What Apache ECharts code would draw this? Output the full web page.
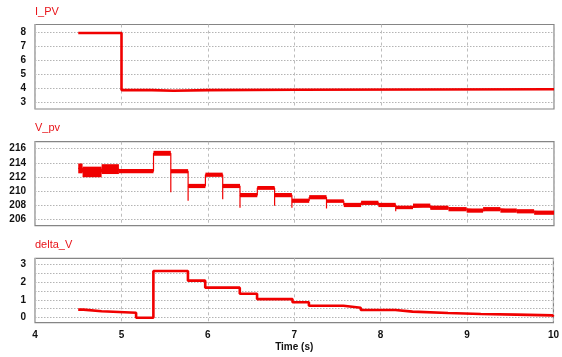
<!DOCTYPE html>
<html><head><meta charset="utf-8">
<script src="https://cdn.jsdelivr.net/npm/echarts@6/dist/echarts.min.js"></script>
<style>html,body{margin:0;padding:0;background:#fff}#c{width:562px;height:357px}</style>
</head><body><div id="c"></div>
<script>
// ---- axis ticks / labels ----
const xTicks = [4, 5, 6, 7, 8, 9, 10];
const ipvTicks = [3, 4, 5, 6, 7, 8];
const vpvTicks = [206, 208, 210, 212, 214, 216];
const dvGridTicks = [0, 0.5, 1, 1.5, 2, 2.5, 3];
const dvLabelTicks = [0, 1, 2, 3];
const panelTitles = ['I_PV', 'V_pv', 'delta_V'];
const xName = 'Time (s)';

// ---- I_PV (step: value holds from time[i] to time[i+1]) ----
const ipvTime  = [4.50, 5.00, 5.35, 5.60, 6.00, 7.00, 10.00];
const ipvValue = [7.95, 3.87, 3.82, 3.87, 3.90, 3.93, 3.95];

// ---- V_pv ripple bands (segment start, end, low, high) ----
const vpvStart = [4.50, 4.55, 4.77, 4.97, 5.37, 5.57, 5.77, 5.97, 6.17, 6.37, 6.57, 6.77, 6.97, 7.17, 7.37, 7.57, 7.77, 7.97, 8.17, 8.37, 8.57, 8.78, 8.99, 9.18, 9.38, 9.57, 9.77];
const vpvEnd   = [4.55, 4.77, 4.97, 5.37, 5.57, 5.77, 5.97, 6.17, 6.37, 6.57, 6.77, 6.97, 7.17, 7.37, 7.57, 7.77, 7.97, 8.17, 8.37, 8.57, 8.78, 8.99, 9.18, 9.38, 9.57, 9.77, 10.00];
const vpvLow   = [212.5, 211.95, 212.4, 212.5, 215.0, 212.5, 210.4, 212.0, 210.4, 209.1, 210.15, 209.1, 208.3, 208.8, 208.3, 207.7, 208.0, 207.7, 207.4, 207.6, 207.3, 207.1, 206.9, 207.1, 206.9, 206.8, 206.6];
const vpvHigh  = [213.9, 213.45, 213.8, 213.1, 215.7, 213.1, 211.0, 212.6, 211.0, 209.7, 210.7, 209.7, 208.9, 209.4, 208.8, 208.3, 208.6, 208.3, 207.9, 208.2, 207.9, 207.7, 207.5, 207.7, 207.5, 207.4, 207.2];
// undershoot spikes at step changes
const spikeTime = [5.57, 5.77, 6.17, 6.37, 6.77, 6.97, 7.37, 8.17];
const spikeLow  = [209.8, 208.6, 208.8, 207.6, 207.9, 207.6, 207.5, 207.1];

// ---- delta_V ----
const dvTime  = [4.50, 4.56, 4.77, 5.17, 5.37, 5.77, 5.97, 6.37, 6.57, 6.98, 7.17, 7.57, 7.77, 8.17, 8.37, 8.78, 9.16, 9.57, 9.99, 10.00];
const dvValue = [0.45, 0.36, 0.28, 0.00, 2.61, 2.07, 1.68, 1.34, 1.04, 0.86, 0.67, 0.56, 0.43, 0.34, 0.26, 0.21, 0.17, 0.13, 0.06, 0.06];

const RED = '#f00000';
const FONT = "'Liberation Sans Narrow', 'Liberation Sans', Arial, sans-serif";

const chart = echarts.init(document.getElementById('c'), null, {renderer: 'canvas'});

const grids = [
  {left: 35, right: 8, top: 24.5, height: 84.5},
  {left: 35, right: 8, top: 141.7, height: 84},
  {left: 35, right: 8, top: 258.3, height: 64.4}
].map(g => Object.assign({show: true, borderColor: '#858585', borderWidth: 1.2, backgroundColor: '#fff'}, g));

const xAxes = [0, 1, 2].map(i => ({
  type: 'value', gridIndex: i, min: xTicks[0], max: xTicks[xTicks.length - 1], interval: 1,
  axisLine: {show: false}, axisTick: {show: false},
  axisLabel: {show: i === 2, fontFamily: FONT, fontWeight: 'bold', fontSize: 10, color: '#111', margin: 8},
  splitLine: {show: true, lineStyle: {color: '#bdbdbd', type: [3, 3], width: 1}},
  name: i === 2 ? xName : '', nameLocation: 'middle', nameGap: 20,
  nameTextStyle: {fontFamily: FONT, fontWeight: 'bold', fontSize: 10, color: '#111'}
}));

function yAxis(i, min, max, tickVals, labelVals) {
  return {
    type: 'value', gridIndex: i, min: min, max: max,
    axisLine: {show: false},
    axisTick: {show: false, customValues: tickVals},
    axisLabel: {customValues: labelVals, fontFamily: FONT, fontWeight: 'bold', fontSize: 10, color: '#111', margin: 9},
    splitLine: {show: true, lineStyle: {color: '#b4b4b4', type: [1.5, 1.5], width: 1}}
  };
}

const yAxes = [
  yAxis(0, 2.52, 8.56, ipvTicks, ipvTicks),
  yAxis(1, 205.05, 217.0, vpvTicks, vpvTicks),
  yAxis(2, -0.28, 3.32, dvGridTicks, dvLabelTicks)
];

const titleTops = [6, 122, 239];
const titles = panelTitles.map((t, i) => ({
  text: t, left: 35, top: titleTops[i], padding: 0,
  textStyle: {fontFamily: FONT, fontWeight: 'normal', fontSize: 11, color: '#e8141a'}
}));

function centerAt(t) {
  const k = vpvStart.indexOf(t);
  return k >= 0 ? (vpvLow[k] + vpvHigh[k]) / 2 : t;
}

const vpvCenters = vpvStart.map((t, i) => [t, (vpvLow[i] + vpvHigh[i]) / 2]);
vpvCenters.push([vpvEnd[vpvEnd.length - 1], vpvCenters[vpvCenters.length - 1][1]]);

const series = [
  {
    type: 'line', xAxisIndex: 0, yAxisIndex: 0, step: 'end', symbol: 'none',
    lineStyle: {color: RED, width: 2.6}, itemStyle: {color: RED},
    data: ipvTime.map((t, i) => [t, ipvValue[i]])
  },
  {
    type: 'line', xAxisIndex: 1, yAxisIndex: 1, step: 'end', symbol: 'none',
    lineStyle: {color: RED, width: 1.2}, itemStyle: {color: RED},
    data: vpvCenters
  },
  {
    type: 'custom', xAxisIndex: 1, yAxisIndex: 1,
    encode: {x: [0, 1], y: [2, 3]},
    data: vpvStart.map((t, i) => [t, vpvEnd[i], vpvLow[i], vpvHigh[i]]),
    renderItem: function (params, api) {
      const p0 = api.coord([api.value(0), api.value(3)]);
      const p1 = api.coord([api.value(1), api.value(2)]);
      return {type: 'rect', shape: {x: p0[0], y: p0[1], width: p1[0] - p0[0], height: p1[1] - p0[1]}, style: {fill: RED}};
    }
  },
  {
    type: 'custom', xAxisIndex: 1, yAxisIndex: 1,
    encode: {x: 0, y: [1, 2]},
    data: spikeTime.map((t, i) => [t, spikeLow[i], centerAt(t)]),
    renderItem: function (params, api) {
      const a = api.coord([api.value(0), api.value(1)]);
      const b = api.coord([api.value(0), api.value(2)]);
      return {type: 'line', shape: {x1: a[0], y1: a[1], x2: b[0], y2: b[1]}, style: {stroke: RED, lineWidth: 1.2}};
    }
  },
  {
    type: 'line', xAxisIndex: 2, yAxisIndex: 2, step: 'end', symbol: 'none',
    lineStyle: {color: RED, width: 2.6}, itemStyle: {color: RED},
    data: dvTime.map((t, i) => [t, dvValue[i]])
  }
];

chart.setOption({
  animation: false,
  backgroundColor: '#fff',
  title: titles,
  grid: grids,
  xAxis: xAxes,
  yAxis: yAxes,
  series: series
});
</script>
</body></html>
